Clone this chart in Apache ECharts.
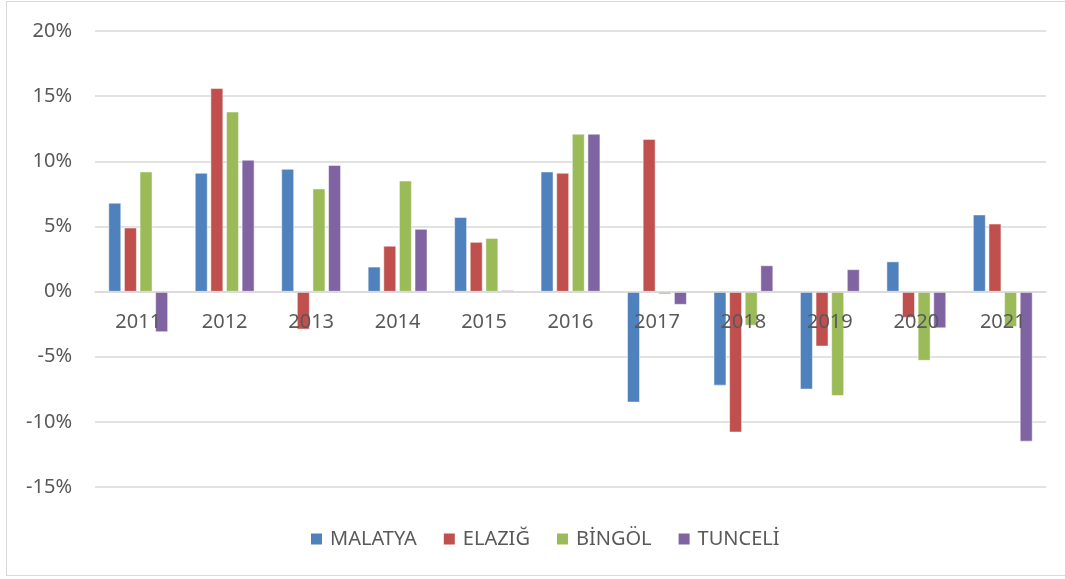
<!DOCTYPE html>
<html>
<head>
<meta charset="utf-8">
<script src="https://cdn.jsdelivr.net/npm/echarts@6/dist/echarts.min.js"></script>
<style>
  body { margin: 0; background: #fff; }
  .chart-wrap { position: relative; width: 1065px; height: 579px; }
  .chart-frame {
    position: absolute; left: 6px; top: 1px; width: 1070px; height: 575px;
    border: 1px solid #d9d9d9; border-right: none; box-sizing: border-box;
  }
  #main { position: absolute; left: 0; top: 0; width: 1065px; height: 579px; }
</style>
</head>
<body>
<div class="chart-wrap">
  <div class="chart-frame"></div>
  <div id="main"></div>
</div>
<script>
// yıllar ve il bazında değişim (%)
const years = ["2011", "2012", "2013", "2014", "2015", "2016", "2017", "2018", "2019", "2020", "2021"];
const malatya = [6.8, 9.1, 9.4, 1.9, 5.7, 9.2, -8.5, -7.2, -7.5, 2.3, 5.9];
const elazig = [4.9, 15.6, -2.9, 3.5, 3.8, 9.1, 11.7, -10.8, -4.2, -2.0, 5.2];
const bingol = [9.2, 13.8, 7.9, 8.5, 4.1, 12.1, -0.2, -2.6, -8.0, -5.3, -2.7];
const tunceli = [-3.1, 10.1, 9.7, 4.8, 0.1, 12.1, -1.0, 2.0, 1.7, -2.8, -11.5];

const textColor = "#595959";
const gridColor = "#d9d9d9";
const fontFamily = "'Noto Sans', sans-serif";

function makeSeries(name, data, color) {
  return {
    name: name,
    type: "bar",
    data: data,
    barWidth: 12.5,
    barGap: "25%",
    itemStyle: { color: color, borderColor: "#ffffff", borderWidth: 0.5 },
  };
}

const chart = echarts.init(document.getElementById("main"));
chart.setOption({
  animation: false,
  textStyle: { fontFamily: fontFamily },
  legend: {
    left: 309,
    top: 529,
    padding: 0,
    icon: "rect",
    itemWidth: 13,
    itemHeight: 13,
    itemGap: 25,
    textStyle: { fontSize: 20, color: textColor, fontFamily: fontFamily, padding: [0, 0, 0, 2] },
    data: ["MALATYA", "ELAZIĞ", "BİNGÖL", "TUNCELİ"],
  },
  grid: { left: 95, right: 19, top: 31, bottom: 92 },
  xAxis: {
    type: "category",
    data: years,
    z: 10,
    axisTick: { show: false },
    axisLine: { onZero: true, lineStyle: { color: gridColor, width: 1.5 } },
    // year labels sit just under the zero line, over the bars
    axisLabel: { color: textColor, fontSize: 20, margin: -175, fontFamily: fontFamily },
  },
  yAxis: {
    type: "value",
    min: -15,
    max: 20,
    interval: 5,
    axisLine: { show: false },
    axisTick: { show: false },
    axisLabel: { color: textColor, fontSize: 20, margin: 23, fontFamily: fontFamily, formatter: "{value}%" },
    splitLine: { lineStyle: { color: gridColor, width: 1.5 } },
  },
  series: [
    makeSeries("MALATYA", malatya, "#4F81BD"),
    makeSeries("ELAZIĞ", elazig, "#C0504D"),
    makeSeries("BİNGÖL", bingol, "#9BBB59"),
    makeSeries("TUNCELİ", tunceli, "#8064A2"),
  ],
});
</script>
</body>
</html>
